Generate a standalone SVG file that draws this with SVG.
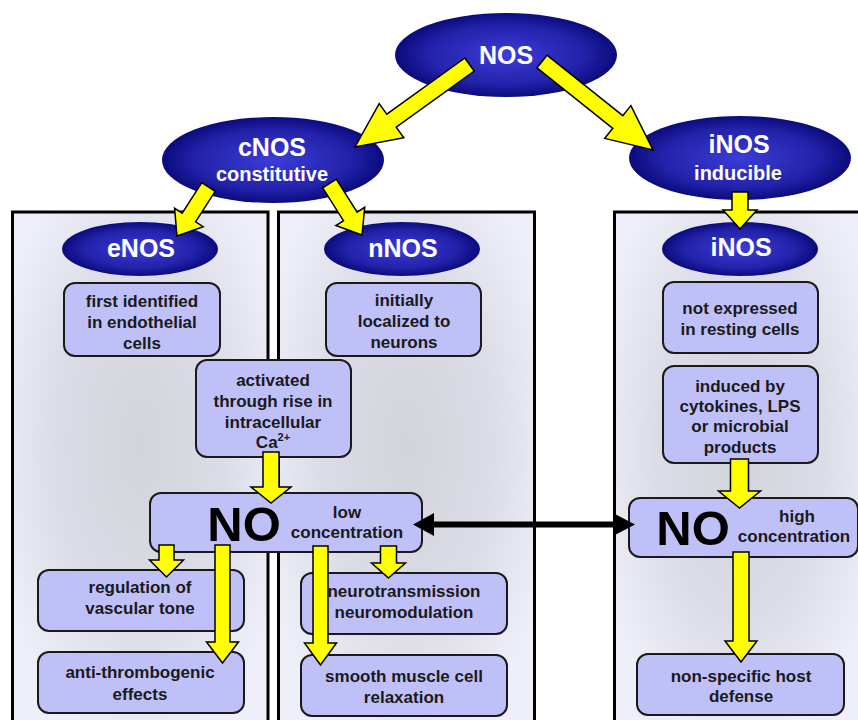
<svg xmlns="http://www.w3.org/2000/svg" width="858" height="720" viewBox="0 0 858 720">
<defs>
<radialGradient id="ell" cx="50%" cy="50%" r="50%">
<stop offset="0" stop-color="#3c3cd8"/>
<stop offset="0.7" stop-color="#2222aa"/>
<stop offset="1" stop-color="#0b0b7e"/>
</radialGradient>
<radialGradient id="pan" cx="50%" cy="45%" r="60%">
<stop offset="0" stop-color="#d3d3dc"/>
<stop offset="0.55" stop-color="#dcdce6"/>
<stop offset="1" stop-color="#efeff9"/>
</radialGradient>
</defs>
<style>
.panel{fill:url(#pan);stroke:#000;stroke-width:3}
.ell{fill:url(#ell)}
.big{font-family:"Liberation Sans",Arial,sans-serif;font-weight:bold;font-size:25px;fill:#fff;text-anchor:middle}
.sub{font-family:"Liberation Sans",Arial,sans-serif;font-weight:bold;font-size:20px;fill:#fff;text-anchor:middle}
.box{fill:#c0c0f8;stroke:#1a1a1a;stroke-width:2}
.t{font-family:"Liberation Sans",Arial,sans-serif;font-weight:bold;font-size:17px;fill:#1a1a1a;text-anchor:middle}
.no{font-family:"Liberation Sans",Arial,sans-serif;font-weight:bold;font-size:49px;fill:#000;text-anchor:middle}
.ya{fill:#ffff00;stroke:#000;stroke-width:1.5;stroke-linejoin:miter}
</style>
<rect width="858" height="720" fill="#fff"/>
<g id="panels">
<rect class="panel" x="12.5" y="212" width="255.5" height="520"/>
<rect class="panel" x="278.5" y="212" width="256" height="520"/>
<rect class="panel" x="614.5" y="212" width="250" height="520"/>
</g>
<g id="node-NOS"><ellipse class="ell" cx="506" cy="55" rx="111" ry="42"/><text class="big" x="506" y="64">NOS</text></g>
<g id="node-cNOS"><ellipse class="ell" cx="273" cy="160" rx="111" ry="43"/><text class="big" x="272" y="156">cNOS</text><text class="sub" x="272" y="181">constitutive</text></g>
<g id="node-iNOS-inducible"><ellipse class="ell" cx="740" cy="158" rx="111" ry="42"/><text class="big" x="739" y="153">iNOS</text><text class="sub" x="738" y="180">inducible</text></g>
<g id="node-eNOS"><ellipse class="ell" cx="140" cy="249" rx="78" ry="27"/><text class="big" x="141" y="257">eNOS</text></g>
<g id="node-nNOS"><ellipse class="ell" cx="402" cy="249" rx="78" ry="27"/><text class="big" x="403" y="257">nNOS</text></g>
<g id="node-iNOS"><ellipse class="ell" cx="740" cy="249" rx="78" ry="27"/><text class="big" x="741" y="256">iNOS</text></g>
<g id="node-first"><rect class="box" x="64" y="283" width="156" height="73" rx="11"/><text class="t" x="142" y="307">first identified</text><text class="t" x="142" y="328">in endothelial</text><text class="t" x="142" y="349">cells</text></g>
<g id="node-initially"><rect class="box" x="326" y="283" width="155" height="73" rx="11"/><text class="t" x="404" y="306">initially</text><text class="t" x="404" y="327">localized to</text><text class="t" x="404" y="348">neurons</text></g>
<g id="node-activated"><rect class="box" x="196" y="360" width="155" height="97" rx="11"/><text class="t" x="273" y="386">activated</text><text class="t" x="273" y="407">through rise in</text><text class="t" x="273" y="428">intracellular</text><text class="t" x="273" y="448">Ca<tspan font-size="11" dy="-7">2+</tspan></text></g>
<g id="node-notexpressed"><rect class="box" x="663" y="282" width="155" height="71" rx="11"/><text class="t" x="740" y="314">not expressed</text><text class="t" x="740" y="335">in resting cells</text></g>
<g id="node-induced"><rect class="box" x="663" y="366" width="155" height="97" rx="11"/><text class="t" x="740" y="392">induced by</text><text class="t" x="740" y="412">cytokines, LPS</text><text class="t" x="740" y="432">or microbial</text><text class="t" x="740" y="453">products</text></g>
<g id="node-NO-low"><rect class="box" x="150" y="493" width="272" height="59" rx="11"/><text class="no" x="244" y="541">NO</text><text class="t" x="347" y="518">low</text><text class="t" x="347" y="538">concentration</text></g>
<g id="node-NO-high"><rect class="box" x="629" y="498" width="229" height="59" rx="11"/><text class="no" x="693" y="545">NO</text><text class="t" x="797" y="522">high</text><text class="t" x="794" y="542">concentration</text></g>
<g id="node-regulation"><rect class="box" x="38" y="570" width="206" height="61" rx="11"/><text class="t" x="140" y="593">regulation of</text><text class="t" x="140" y="614">vascular tone</text></g>
<g id="node-anti"><rect class="box" x="38" y="652" width="206" height="61" rx="11"/><text class="t" x="140" y="678">anti-thrombogenic</text><text class="t" x="140" y="700">effects</text></g>
<g id="node-neuro"><rect class="box" x="301" y="573" width="206" height="61" rx="11"/><text class="t" x="404" y="597">neurotransmission</text><text class="t" x="404" y="618">neuromodulation</text></g>
<g id="node-smooth"><rect class="box" x="301" y="655" width="206" height="61" rx="11"/><text class="t" x="404" y="682">smooth muscle cell</text><text class="t" x="404" y="703">relaxation</text></g>
<g id="node-nonspecific"><rect class="box" x="637" y="654" width="207" height="61" rx="11"/><text class="t" x="741" y="682">non-specific host</text><text class="t" x="741" y="702">defense</text></g>
<g id="connectors">
<polygon class="ya" points="464.8,58 386.8,114.2 379.2,103.6 355,147 403.8,137.8 396.2,127.2 474.2,71"/>
<polygon class="ya" points="547,55.2 622.8,115.7 630.9,105.6 653,150 604.7,138.4 612.8,128.3 537,67.8"/>
<polygon class="ya" points="201.8,182.7 182.2,213.2 174.6,208.3 177,236 203.2,226.7 195.6,221.8 215.2,191.3"/>
<polygon class="ya" points="336.3,179.2 357.1,212.1 364.7,207.3 362,235 335.9,225.5 343.5,220.7 322.7,187.8"/>
<polygon class="ya" points="732,192 748,192 748,210 757,210 740,229 723,210 732,210"/>
<polygon class="ya" points="263,452 279,452 279,487 291,487 271,503 251,487 263,487"/>
<polygon class="ya" points="730.5,459 748.5,459 748.5,491 760.5,491 739.5,508 718.5,491 730.5,491"/>
<polygon class="ya" points="159,545 174,545 174,560 183.5,560 166.5,577 149.5,560 159,560"/>
<polygon class="ya" points="215,545 230,545 230,642 238.5,642 222.5,663 206.5,642 215,642"/>
<polygon class="ya" points="313,546 328,546 328,643 336.5,643 320.5,665 304.5,643 313,643"/>
<polygon class="ya" points="380.5,546 396.5,546 396.5,563 405.5,563 388.5,578 371.5,563 380.5,563"/>
<polygon class="ya" points="733,552 749,552 749,641 757,641 741,662 725,641 733,641"/>
<line x1="430" y1="524.5" x2="617" y2="524.5" stroke="#000" stroke-width="6"/>
<polygon points="413,524.5 434,513 434,536" fill="#000"/>
<polygon points="635,524.5 613,513 613,536" fill="#000"/>
</g>
</svg>
